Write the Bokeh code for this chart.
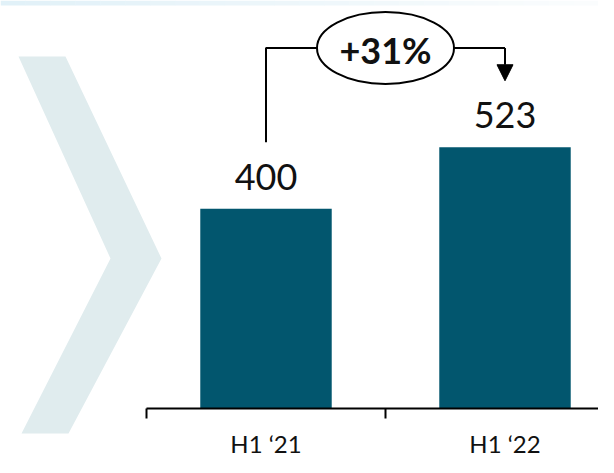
from bokeh.plotting import figure
from bokeh.models import Range1d, LinearAxis, FixedTicker, Arrow, NormalHead
from bokeh.core.properties import value
from bokeh.embed import file_html
from bokeh.resources import INLINE

# ---- data ----
categories = ["H1 \u201821", "H1 \u201822"]
values = [400, 523]
growth_pct = round((values[1] / values[0] - 1) * 100)
growth_label = f"+{growth_pct}%"

# ---- styles ----
BAR_COLOR = "#02566E"
CHEVRON_COLOR = "#E0ECEE"
FONT = "Lato"

# ---- geometry (picture pixels -> data scale) ----
W, H = 598, 457
CAT_PX = 239.0          # pixels per category
CAT0_PX = 265.5         # picture x of first category center
BASE_PX = 408.25        # picture y of the baseline
Y_PX = 0.5              # pixels per data unit

def dx(px):
    return (px - CAT0_PX) / CAT_PX

def dy(py):
    return (BASE_PX - py) / Y_PX

p = figure(width=W, height=H, output_backend="svg", toolbar_location=None,
           x_axis_type=None, y_axis_type=None,
           x_range=Range1d(dx(0), dx(W)),
           y_range=Range1d(dy(H), dy(0)),
           min_border=0, outline_line_color=None)
p.grid.visible = False
p.background_fill_color = "white"
p.border_fill_color = "white"

# decorative top band (light gradient)
def _mix(c1, c2, t):
    a = [int(c1[i:i + 2], 16) for i in (1, 3, 5)]
    b = [int(c2[i:i + 2], 16) for i in (1, 3, 5)]
    return "#" + "".join(f"{round(a[k] + (b[k] - a[k]) * t):02x}" for k in range(3))

N_BAND = 24
band_l = [dx(W * i / N_BAND) for i in range(N_BAND)]
band_r = [dx(W * (i + 1) / N_BAND) + 0.002 for i in range(N_BAND)]
band_c = [_mix("#E1F1F8", "#FAFCFD", i / (N_BAND - 1)) for i in range(N_BAND)]
p.quad(left=band_l, right=band_r, top=dy(0), bottom=dy(5), fill_color=band_c, line_color=None)

# decorative chevron (picture pixel outline)
chev_px = [(18, 56), (65, 56), (161, 258), (68, 433), (21, 433), (110, 258)]
p.patch([dx(a) for a, b in chev_px], [dy(b) for a, b in chev_px],
        fill_color=CHEVRON_COLOR, line_color=None)

# bars
xs = list(range(len(categories)))
p.vbar(x=xs, top=values, bottom=0, width=0.55, fill_color=BAR_COLOR, line_color=None)

# value labels
LABEL_GAP = 64
p.text(x=xs, y=[v + LABEL_GAP for v in values], text=[str(v) for v in values],
       text_font=value(FONT), text_font_size="36px", text_color="#111111",
       text_align="center", text_baseline="alphabetic")

# growth bracket
top_y = max(values) + 198.5
start_off = 133
p.line(x=[xs[0], xs[0], xs[1]], y=[values[0] + start_off, top_y, top_y],
       line_color="black", line_width=2)
p.add_layout(Arrow(x_start=xs[1], y_start=top_y, x_end=xs[1], y_end=values[1] + start_off,
                   line_color="black", line_width=2,
                   end=NormalHead(size=16, fill_color="black", line_color="black")))
mid = (xs[0] + xs[1]) / 2
p.ellipse(x=[mid], y=[top_y], width=[137], height=[72], width_units="screen",
          height_units="screen", fill_color="white", line_color="black", line_width=2)
p.text(x=[mid], y=[top_y - 4], text=[growth_label], text_font=value(FONT),
       text_font_style="bold", text_font_size="36px", text_color="#111111",
       text_align="center", text_baseline="middle")

# x axis: labels at category centers, ticks (minor) at category boundaries
x_axis = LinearAxis(fixed_location=0,
                    ticker=FixedTicker(ticks=xs,
                                       minor_ticks=[x - 0.5 for x in xs] + [xs[-1] + 0.5]),
                    bounds=(xs[0] - 0.5, xs[-1] + 1.5),
                    major_label_overrides={x: c for x, c in zip(xs, categories)},
                    major_tick_out=0, major_tick_in=0, major_tick_line_color=None,
                    minor_tick_out=10, minor_tick_in=0, minor_tick_line_width=2,
                    minor_tick_line_color="black",
                    axis_line_width=2, axis_line_color="black",
                    major_label_standoff=10, major_label_text_font=FONT,
                    major_label_text_font_size="24px", major_label_text_color="#111111")
p.add_layout(x_axis, "below")

open("out.html", "w").write(file_html(p, INLINE))
